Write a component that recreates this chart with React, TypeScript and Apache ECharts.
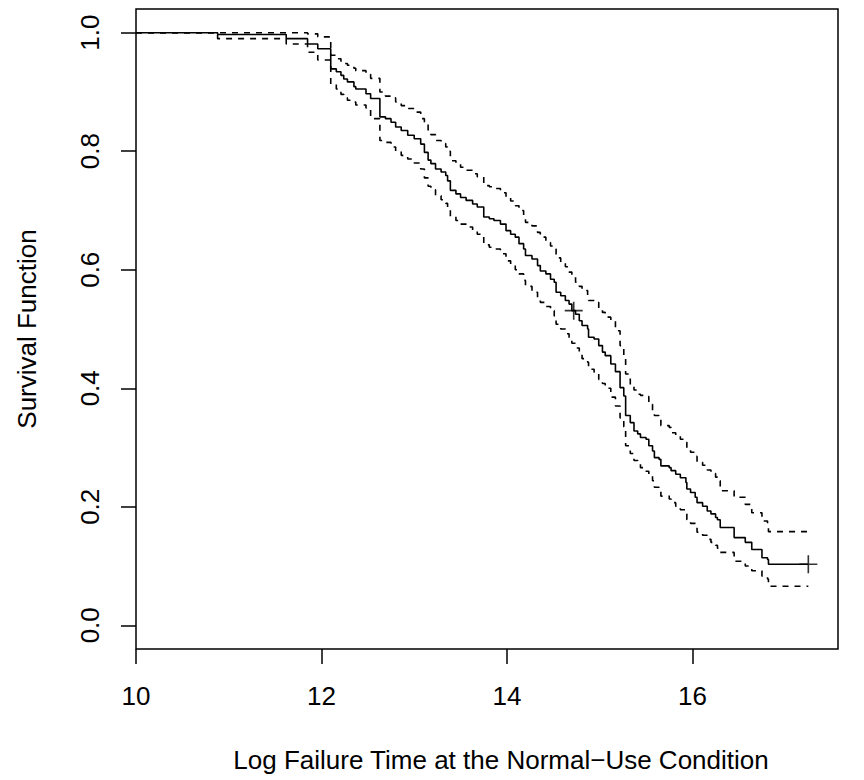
import React, { useEffect, useRef } from "react";
import * as echarts from "echarts";

// Kaplan-Meier estimate (step times)
const times = [
  10.0, 10.88, 11.62, 11.85, 11.96, 12.1, 12.16, 12.21, 12.24, 12.28,
  12.35, 12.37, 12.48, 12.53, 12.63, 12.69, 12.75, 12.8, 12.86, 12.93,
  13.0, 13.07, 13.11, 13.15, 13.18, 13.23, 13.29, 13.34, 13.36, 13.39,
  13.45, 13.5, 13.56, 13.63, 13.68, 13.75, 13.81, 13.86, 13.93, 13.99,
  14.04, 14.09, 14.13, 14.18, 14.2, 14.27, 14.33, 14.36, 14.42, 14.47,
  14.51, 14.53, 14.58, 14.63, 14.67, 14.7, 14.74, 14.78, 14.81, 14.87,
  14.88, 14.94, 14.99, 15.03, 15.06, 15.12, 15.17, 15.22, 15.26, 15.28,
  15.33, 15.37, 15.41, 15.44, 15.5, 15.53, 15.57, 15.59, 15.64, 15.66,
  15.75, 15.77, 15.82, 15.87, 15.93, 15.94, 15.98, 16.03, 16.05, 16.11,
  16.16, 16.2, 16.25, 16.27, 16.3, 16.45, 16.57, 16.64, 16.75, 16.81,
  16.82, 17.25,
];

const survival = [
  1.0, 0.997, 0.99, 0.981, 0.973, 0.939, 0.934, 0.928, 0.922, 0.917,
  0.909, 0.905, 0.897, 0.889, 0.858, 0.855, 0.849, 0.841, 0.835, 0.827,
  0.821, 0.812, 0.798, 0.785, 0.779, 0.77, 0.765, 0.759, 0.75, 0.734,
  0.728, 0.722, 0.717, 0.711, 0.706, 0.689, 0.686, 0.683, 0.677, 0.666,
  0.66, 0.655, 0.644, 0.635, 0.624, 0.618, 0.607, 0.598, 0.593, 0.584,
  0.579, 0.562, 0.556, 0.548, 0.542, 0.531, 0.525, 0.514, 0.506, 0.5,
  0.486, 0.483, 0.472, 0.461, 0.455, 0.441, 0.428, 0.401, 0.387, 0.354,
  0.342, 0.328, 0.323, 0.317, 0.314, 0.303, 0.294, 0.283, 0.28, 0.269,
  0.266, 0.261, 0.255, 0.249, 0.241, 0.23, 0.224, 0.216, 0.207, 0.201,
  0.193, 0.188, 0.182, 0.178, 0.165, 0.148, 0.14, 0.128, 0.114, 0.111,
  0.103, 0.103,
];

const upperCI = [
  1.0, 1.0, 1.0, 0.998, 0.993, 0.962, 0.956, 0.952, 0.948, 0.945,
  0.94, 0.936, 0.93, 0.923, 0.9, 0.893, 0.89, 0.883, 0.877, 0.872,
  0.866, 0.855, 0.845, 0.833, 0.828, 0.818, 0.813, 0.807, 0.8, 0.784,
  0.78, 0.773, 0.768, 0.762, 0.757, 0.742, 0.74, 0.737, 0.73, 0.722,
  0.716, 0.708, 0.7, 0.691, 0.68, 0.674, 0.663, 0.655, 0.646, 0.64,
  0.635, 0.62, 0.613, 0.605, 0.596, 0.588, 0.579, 0.572, 0.565, 0.557,
  0.548, 0.545, 0.535, 0.528, 0.52, 0.514, 0.497, 0.472, 0.452, 0.424,
  0.404, 0.397, 0.39, 0.388, 0.386, 0.373, 0.363, 0.354, 0.352, 0.337,
  0.334, 0.325, 0.32, 0.314, 0.309, 0.298, 0.292, 0.285, 0.275, 0.27,
  0.262, 0.256, 0.25, 0.244, 0.227, 0.216, 0.204, 0.19, 0.176, 0.17,
  0.158, 0.158,
];

const lowerCI = [
  1.0, 0.99, 0.981, 0.967, 0.954, 0.913, 0.905, 0.896, 0.89, 0.886,
  0.883, 0.878, 0.873, 0.855, 0.818, 0.815, 0.807, 0.8, 0.793, 0.787,
  0.78, 0.77, 0.755, 0.741, 0.735, 0.725, 0.718, 0.712, 0.705, 0.69,
  0.683, 0.677, 0.672, 0.666, 0.66, 0.642, 0.638, 0.635, 0.627, 0.615,
  0.608, 0.6, 0.593, 0.582, 0.572, 0.562, 0.552, 0.545, 0.538, 0.531,
  0.522, 0.508, 0.5, 0.492, 0.485, 0.476, 0.468, 0.458, 0.45, 0.444,
  0.432, 0.427, 0.415, 0.408, 0.4, 0.385, 0.37, 0.35, 0.335, 0.303,
  0.29, 0.278, 0.272, 0.266, 0.26, 0.252, 0.244, 0.233, 0.23, 0.218,
  0.213, 0.207, 0.201, 0.195, 0.188, 0.178, 0.172, 0.165, 0.157, 0.152,
  0.145, 0.14, 0.135, 0.13, 0.123, 0.108, 0.1, 0.092, 0.083, 0.078,
  0.066, 0.066,
];

const censorTimes = [14.72, 17.25];
const censorSurvival = [0.531, 0.103];

const xTicks = [10, 12, 14, 16];
const yTicks = [0, 0.2, 0.4, 0.6, 0.8, 1.0];
const xTitle = "Log Failure Time at the Normal\u2212Use Condition";
const yTitle = "Survival Function";

const FONT = "'Liberation Sans', Arial, Helvetica, sans-serif";
const FS = 26;

export default function App() {
  const ref = useRef<HTMLDivElement>(null);

  useEffect(() => {
    const chart = echarts.init(ref.current!, null, { renderer: "svg" });
    const pair = (vals: number[]) => times.map((t, i) => [t, vals[i]]);
    const plus =
      "path://M-0.9,-10 L0.9,-10 L0.9,-0.9 L10,-0.9 L10,0.9 L0.9,0.9 L0.9,10 L-0.9,10 L-0.9,0.9 L-10,0.9 L-10,-0.9 L-0.9,-0.9 Z";
    chart.setOption({
      animation: false,
      backgroundColor: "#fff",
      grid: {
        left: 136,
        right: 26,
        top: 9,
        bottom: 131,
        show: true,
        borderColor: "#000",
        borderWidth: 1.5,
        backgroundColor: "transparent",
        containLabel: false,
        outerBoundsMode: "none",
      },
      graphic: [
        {
          type: "text",
          x: 501,
          y: 747,
          style: {
            text: xTitle,
            fill: "#000",
            font: `${FS}px ${FONT}`,
            textAlign: "center",
            textVerticalAlign: "top",
          },
        },
      ],
      xAxis: {
        type: "value",
        min: 10,
        max: 17.57,
        axisLine: { show: false, onZero: false },
        splitLine: { show: false },
        axisTick: {
          show: true,
          customValues: xTicks,
          length: 15,
          lineStyle: { color: "#000", width: 1.5 },
        },
        axisLabel: {
          customValues: xTicks,
          fontSize: FS,
          color: "#000",
          fontFamily: FONT,
          margin: 34,
        },
      },
      yAxis: {
        type: "value",
        min: -0.04,
        max: 1.04,
        axisLine: { show: false, onZero: false },
        splitLine: { show: false },
        axisTick: {
          show: true,
          customValues: yTicks,
          length: 15,
          lineStyle: { color: "#000", width: 1.5 },
        },
        axisLabel: {
          customValues: yTicks,
          rotate: 90,
          formatter: (v: number) => v.toFixed(1),
          fontSize: FS,
          color: "#000",
          fontFamily: FONT,
          margin: 33,
        },
        name: yTitle,
        nameLocation: "middle",
        nameRotate: 90,
        nameGap: 96,
        nameTextStyle: { fontSize: FS, color: "#000", fontFamily: FONT },
      },
      series: [
        {
          type: "line",
          step: "end",
          data: pair(survival),
          symbol: "none",
          lineStyle: { color: "#000", width: 1.6 },
          z: 3,
        },
        {
          type: "line",
          step: "end",
          data: pair(upperCI),
          symbol: "none",
          lineStyle: { color: "#000", width: 1.6, type: [6, 6] },
          z: 2,
        },
        {
          type: "line",
          step: "end",
          data: pair(lowerCI),
          symbol: "none",
          lineStyle: { color: "#000", width: 1.6, type: [6, 6] },
          z: 2,
        },
        {
          type: "scatter",
          data: censorTimes.map((t, i) => [t, censorSurvival[i]]),
          symbol: plus,
          symbolSize: 18,
          itemStyle: { color: "#000" },
          z: 4,
        },
      ],
    });
    return () => chart.dispose();
  }, []);

  return (
    <div
      ref={ref}
      style={{ position: "absolute", left: 0, top: 0, width: 864, height: 780 }}
    />
  );
}
